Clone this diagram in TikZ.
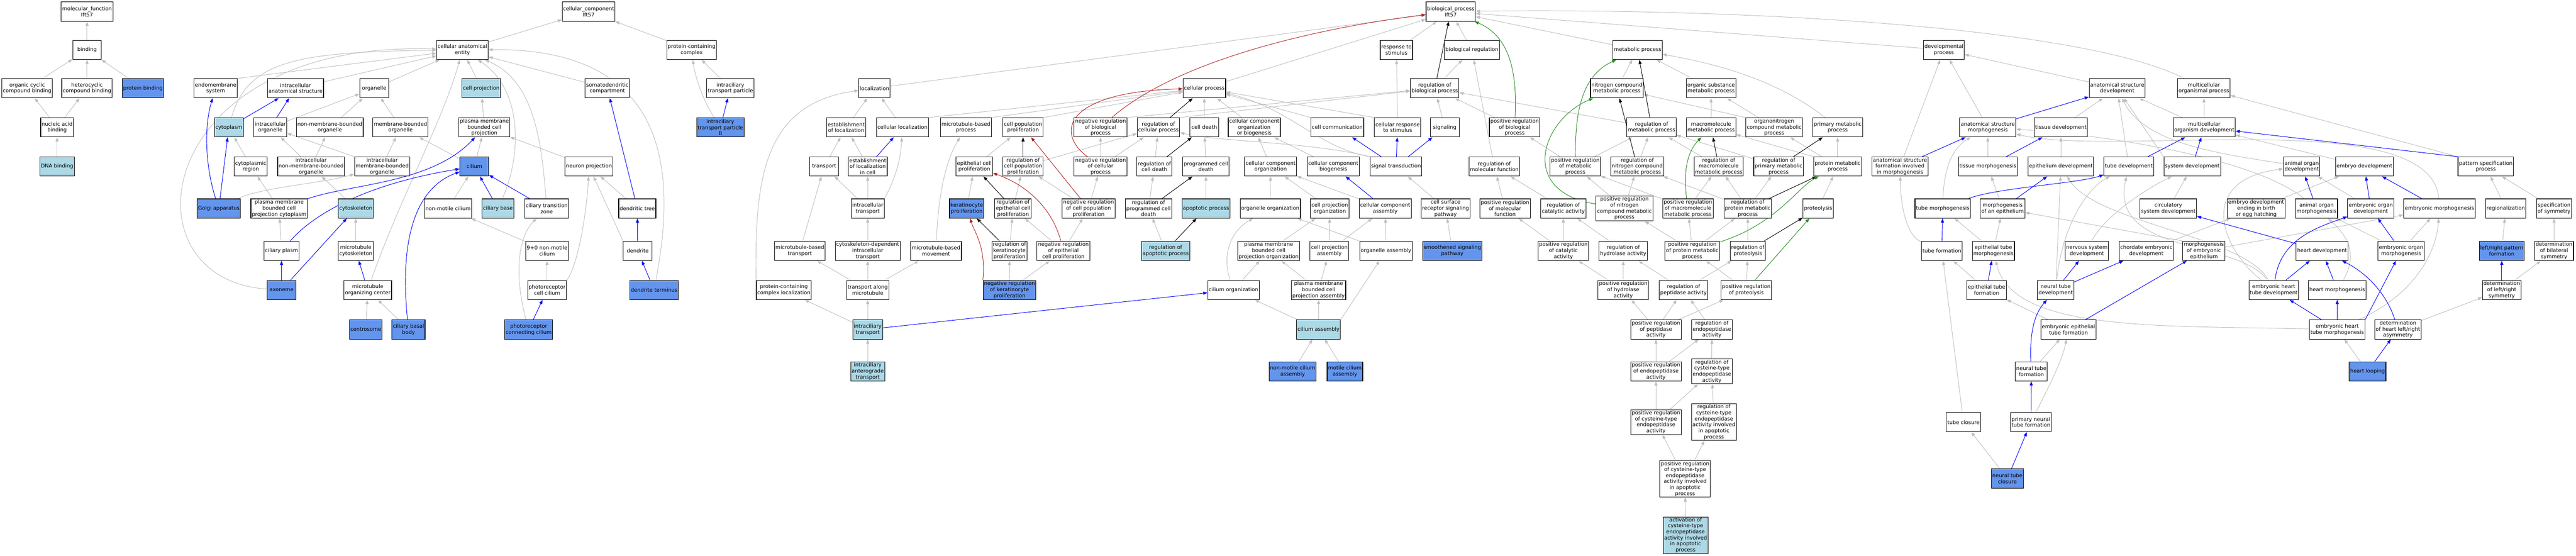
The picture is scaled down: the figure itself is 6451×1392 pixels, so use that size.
\documentclass[tikz,border=0pt]{standalone}
\usepackage{fontspec}
\setmainfont{DejaVu Sans}
\usetikzlibrary{arrows.meta}
\definecolor{hitlight}{HTML}{ADD8E6}
\definecolor{hitdark}{HTML}{6495ED}
\definecolor{isagray}{HTML}{BEBEBE}
\definecolor{negred}{HTML}{B22222}
\definecolor{posgreen}{HTML}{228B22}
\newcommand{\gofont}{\fontsize{3.7}{4.27}\selectfont}
\pgfdeclarelayer{edges}
\pgfsetlayers{edges,main}
\tikzset{
  goterm/.style={draw, rectangle, align=center, font=\gofont, fill=white, minimum width=0.72cm, minimum height=0.48cm, inner xsep=0.025cm, inner ysep=0.02cm, line width=0.4pt},
  lighthit/.style={goterm, fill=hitlight},
  darkhit/.style={goterm, fill=hitdark},
  link/.style={line width=0.35pt, -{Triangle[length=3pt,width=2.2pt]}},
  isa/.style={link, isagray},
  partof/.style={link, blue},
  regul/.style={link, black},
  negreg/.style={link, negred},
  posreg/.style={link, posgreen}
}

\begin{document}
\begin{tikzpicture}[x=0.01cm, y=-0.01cm]
\useasboundingbox (0,0) rectangle (6451,1392);

\node[goterm] (mf) at (218,29) {molecular\_function\\Ift57};
\node[goterm] (bind) at (218,125) {binding};
\node[goterm] (ocb) at (68,221) {organic cyclic\\compound binding};
\node[goterm] (hcb) at (218,221) {heterocyclic\\compound binding};
\node[darkhit] (pbind) at (358,221) {protein binding};
\node[goterm] (nab) at (143,319) {nucleic acid\\binding};
\node[lighthit] (dnab) at (143,417) {DNA binding};

\node[goterm] (cc) at (1474,29) {cellular\_component\\Ift57};
\node[goterm] (cae) at (1158,125) {cellular anatomical\\entity};
\node[goterm] (pcc) at (1732,125) {protein-containing\\complex};
\node[goterm] (ems) at (540,221) {endomembrane\\system};
\node[goterm] (ias) at (740,221) {intracellular\\anatomical structure};
\node[goterm] (org) at (937,221) {organelle};
\node[lighthit] (cproj) at (1205,221) {cell projection};
\node[goterm] (sdc) at (1521,221) {somatodendritic\\compartment};
\node[goterm] (itp) at (1829,221) {intraciliary\\transport particle};
\node[lighthit] (cyto) at (573,319) {cytoplasm};
\node[goterm] (io) at (677,319) {intracellular\\organelle};
\node[goterm] (nmbo) at (826,319) {non-membrane-bounded\\organelle};
\node[goterm] (mbo) at (1003,319) {membrane-bounded\\organelle};
\node[goterm] (pmbcp) at (1213,319) {plasma membrane\\bounded cell\\projection};
\node[darkhit] (itpb) at (1804,319) {intraciliary\\transport particle\\B};
\node[goterm] (cyreg) at (628,417) {cytoplasmic\\region};
\node[goterm] (inmbo) at (779,417) {intracellular\\non-membrane-bounded\\organelle};
\node[goterm] (imbo) at (957,417) {intracellular\\membrane-bounded\\organelle};
\node[darkhit] (cilium) at (1188,417) {cilium};
\node[goterm] (nproj) at (1475,417) {neuron projection};
\node[darkhit] (golgi) at (548,522) {Golgi apparatus};
\node[goterm] (pmbcpc) at (699,522) {plasma membrane\\bounded cell\\projection cytoplasm};
\node[lighthit] (cysk) at (891,522) {cytoskeleton};
\node[goterm] (nmc) at (1122,522) {non-motile cilium};
\node[lighthit] (cbase) at (1247,522) {ciliary base};
\node[goterm] (ctz) at (1369,522) {ciliary transition\\zone};
\node[goterm] (dtree) at (1596,522) {dendritic tree};
\node[goterm] (cplasm) at (705,628) {ciliary plasm};
\node[goterm] (mtcysk) at (891,628) {microtubule\\cytoskeleton};
\node[goterm] (nmc90) at (1370,628) {9+0 non-motile\\cilium};
\node[goterm] (dendrite) at (1597,628) {dendrite};
\node[darkhit] (axon) at (705,726) {axoneme};
\node[goterm] (mtoc) at (921,726) {microtubule\\organizing center};
\node[goterm] (prcil) at (1370,726) {photoreceptor\\cell cilium};
\node[darkhit] (dtermin) at (1638,726) {dendrite terminus};
\node[darkhit] (csome) at (916,825) {centrosome};
\node[darkhit] (cbb) at (1023,825) {ciliary basal\\body};
\node[darkhit] (pccil) at (1324,825) {photoreceptor\\connecting cilium};

\node[goterm] (bp) at (3633,29) {biological\_process\\Ift57};
\node[goterm] (rstim) at (3497,125) {response to\\stimulus};
\node[goterm] (breg) at (3686,125) {biological regulation};
\node[goterm] (metab) at (4101,125) {metabolic process};
\node[goterm] (devp) at (4868,125) {developmental\\process};
\node[goterm] (loc) at (2190,221) {localization};
\node[goterm] (cellp) at (3016,221) {cellular process};
\node[goterm] (rbp) at (3593,221) {regulation of\\biological process};
\node[goterm] (ncmp) at (4049,221) {nitrogen compound\\metabolic process};
\node[goterm] (osmp) at (4285,221) {organic substance\\metabolic process};
\node[goterm] (asd) at (5302,221) {anatomical structure\\development};
\node[goterm] (mop) at (5519,221) {multicellular\\organismal process};
\node[goterm] (eloc) at (2119,319) {establishment\\of localization};
\node[goterm] (cloc) at (2260,319) {cellular localization};
\node[goterm] (mbp) at (2419,319) {microtubule-based\\process};
\node[goterm] (cpp) at (2562,319) {cell population\\proliferation};
\node[goterm] (nrbp) at (2756,319) {negative regulation\\of biological\\process};
\node[goterm] (rcp) at (2901,319) {regulation of\\cellular process};
\node[goterm] (cdeath) at (3016,319) {cell death};
\node[goterm] (ccob) at (3141,319) {cellular component\\organization\\or biogenesis};
\node[goterm] (ccomm) at (3349,319) {cell communication};
\node[goterm] (crs) at (3500,319) {cellular response\\to stimulus};
\node[goterm] (signaling) at (3618,319) {signaling};
\node[goterm] (prbp) at (3793,319) {positive regulation\\of biological\\process};
\node[goterm] (rmp) at (4136,319) {regulation of\\metabolic process};
\node[goterm] (mmp) at (4285,319) {macromolecule\\metabolic process};
\node[goterm] (onmp) at (4443,319) {organonitrogen\\compound metabolic\\process};
\node[goterm] (pmp) at (4602,319) {primary metabolic\\process};
\node[goterm] (asm) at (4978,319) {anatomical structure\\morphogenesis};
\node[goterm] (tdev) at (5161,319) {tissue development};
\node[goterm] (mod) at (5520,319) {multicellular\\organism development};
\node[goterm] (transport) at (2064,417) {transport};
\node[goterm] (elocc) at (2173,417) {establishment\\of localization\\in cell};
\node[goterm] (ecp) at (2440,417) {epithelial cell\\proliferation};
\node[goterm] (rcpp) at (2562,417) {regulation of\\cell population\\proliferation};
\node[goterm] (nrcp) at (2756,417) {negative regulation\\of cellular\\process};
\node[goterm] (rcd) at (2891,417) {regulation of\\cell death};
\node[goterm] (pcd) at (3020,417) {programmed cell\\death};
\node[goterm] (cco) at (3182,417) {cellular component\\organization};
\node[goterm] (ccb) at (3339,417) {cellular component\\biogenesis};
\node[goterm] (sigtr) at (3496,417) {signal transduction};
\node[goterm] (rmf) at (3742,417) {regulation of\\molecular function};
\node[goterm] (prmp) at (3945,417) {positive regulation\\of metabolic\\process};
\node[goterm] (rncmp) at (4100,417) {regulation of\\nitrogen compound\\metabolic process};
\node[goterm] (rmmp) at (4304,417) {regulation of\\macromolecule\\metabolic process};
\node[goterm] (rpmp) at (4454,417) {regulation of\\primary metabolic\\process};
\node[goterm] (protmp) at (4602,417) {protein metabolic\\process};
\node[goterm] (asfim) at (4758,417) {anatomical structure\\formation involved\\in morphogenesis};
\node[goterm] (tmorph) at (4978,417) {tissue morphogenesis};
\node[goterm] (epdev) at (5161,417) {epithelium development};
\node[goterm] (tubedev) at (5331,417) {tube development};
\node[goterm] (sysdev) at (5490,417) {system development};
\node[goterm] (aod) at (5764,417) {animal organ\\development};
\node[goterm] (embdev) at (5921,417) {embryo development};
\node[goterm] (psp) at (6225,417) {pattern specification\\process};
\node[goterm] (itrans) at (2173,522) {intracellular\\transport};
\node[darkhit] (kprol) at (2421,522) {keratinocyte\\proliferation};
\node[goterm] (recp) at (2537,522) {regulation of\\epithelial cell\\proliferation};
\node[goterm] (nrcpp) at (2726,522) {negative regulation\\of cell population\\proliferation};
\node[goterm] (rpcd) at (2876,522) {regulation of\\programmed cell\\death};
\node[lighthit] (apop) at (3020,522) {apoptotic process};
\node[goterm] (orgorg) at (3181,522) {organelle organization};
\node[goterm] (cporg) at (3330,522) {cell projection\\organization};
\node[goterm] (ccass) at (3469,522) {cellular component\\assembly};
\node[goterm] (csrsp) at (3620,522) {cell surface\\receptor signaling\\pathway};
\node[goterm] (prmf) at (3769,522) {positive regulation\\of molecular\\function};
\node[goterm] (rca) at (3915,522) {regulation of\\catalytic activity};
\node[goterm] (prncmp) at (4068,522) {positive regulation\\of nitrogen\\compound metabolic\\process};
\node[goterm] (prmmp) at (4227,522) {positive regulation\\of macromolecule\\metabolic process};
\node[goterm] (rprotmp) at (4377,522) {regulation of\\protein metabolic\\process};
\node[goterm] (prot) at (4553,522) {proteolysis};
\node[goterm] (tmorphg) at (4865,522) {tube morphogenesis};
\node[goterm] (moae) at (5015,522) {morphogenesis\\of an epithelium};
\node[goterm] (csd) at (5430,522) {circulatory\\system development};
\node[goterm] (edeb) at (5650,522) {embryo development\\ending in birth\\or egg hatching};
\node[goterm] (aom) at (5801,522) {animal organ\\morphogenesis};
\node[goterm] (eod) at (5937,522) {embryonic organ\\development};
\node[goterm] (emorph) at (6109,522) {embryonic morphogenesis};
\node[goterm] (regio) at (6275,522) {regionalization};
\node[goterm] (specsym) at (6396,522) {specification\\of symmetry};
\node[goterm] (mbt) at (2003,628) {microtubule-based\\transport};
\node[goterm] (cdit) at (2173,628) {cytoskeleton-dependent\\intracellular\\transport};
\node[goterm] (mbm) at (2344,628) {microtubule-based\\movement};
\node[goterm] (rkp) at (2528,628) {regulation of\\keratinocyte\\proliferation};
\node[goterm] (nrecp) at (2663,628) {negative regulation\\of epithelial\\cell proliferation};
\node[lighthit] (rap) at (2919,628) {regulation of\\apoptotic process};
\node[goterm] (pmbcpo) at (3177,628) {plasma membrane\\bounded cell\\projection organization};
\node[goterm] (cpass) at (3329,628) {cell projection\\assembly};
\node[goterm] (orgass) at (3471,628) {organelle assembly};
\node[darkhit] (ssp) at (3637,628) {smoothened signaling\\pathway};
\node[goterm] (prca) at (3915,628) {positive regulation\\of catalytic\\activity};
\node[goterm] (rha) at (4065,628) {regulation of\\hydrolase activity};
\node[goterm] (prpmp) at (4238,628) {positive regulation\\of protein metabolic\\process};
\node[goterm] (rprot) at (4377,628) {regulation of\\proteolysis};
\node[goterm] (tform) at (4863,628) {tube formation};
\node[goterm] (etm) at (4992,628) {epithelial tube\\morphogenesis};
\node[goterm] (nsd) at (5226,628) {nervous system\\development};
\node[goterm] (ced) at (5375,628) {chordate embryonic\\development};
\node[goterm] (moee) at (5519,628) {morphogenesis\\of embryonic\\epithelium};
\node[goterm] (hdev) at (5815,628) {heart development};
\node[goterm] (eom) at (6013,628) {embryonic organ\\morphogenesis};
\node[darkhit] (lrpf) at (6265,628) {left/right pattern\\formation};
\node[goterm] (dbs) at (6396,628) {determination\\of bilateral\\symmetry};
\node[goterm] (pccl) at (1963,726) {protein-containing\\complex localization};
\node[goterm] (tam) at (2173,726) {transport along\\microtubule};
\node[darkhit] (nrkp) at (2528,726) {negative regulation\\of keratinocyte\\proliferation};
\node[goterm] (ciliorg) at (3089,726) {cilium organization};
\node[goterm] (pmbcpa) at (3302,726) {plasma membrane\\bounded cell\\projection assembly};
\node[goterm] (prha) at (4065,726) {positive regulation\\of hydrolase\\activity};
\node[goterm] (rpa) at (4216,726) {regulation of\\peptidase activity};
\node[goterm] (prp) at (4373,726) {positive regulation\\of proteolysis};
\node[goterm] (etf) at (4975,726) {epithelial tube\\formation};
\node[goterm] (ntd) at (5148,726) {neural tube\\development};
\node[goterm] (ehtd) at (5694,726) {embryonic heart\\tube development};
\node[goterm] (hmorph) at (5853,726) {heart morphogenesis};
\node[goterm] (dlrs) at (6265,726) {determination\\of left/right\\symmetry};
\node[lighthit] (ict) at (2173,825) {intraciliary\\transport};
\node[lighthit] (ciliass) at (3302,825) {cilium assembly};
\node[goterm] (prpa) at (4147,825) {positive regulation\\of peptidase\\activity};
\node[goterm] (rea) at (4287,825) {regulation of\\endopeptidase\\activity};
\node[goterm] (eetf) at (5180,825) {embryonic epithelial\\tube formation};
\node[goterm] (ehtm) at (5853,825) {embryonic heart\\tube morphogenesis};
\node[goterm] (dhlra) at (6005,825) {determination\\of heart left/right\\asymmetry};
\node[lighthit] (icat) at (2173,930) {intraciliary\\anterograde\\transport};
\node[darkhit] (nmca) at (3237,930) {non-motile cilium\\assembly};
\node[darkhit] (mca) at (3368,930) {motile cilium\\assembly};
\node[goterm] (prea) at (4147,930) {positive regulation\\of endopeptidase\\activity};
\node[goterm] (rcea) at (4287,930) {regulation of\\cysteine-type\\endopeptidase\\activity};
\node[goterm] (ntf) at (5087,930) {neural tube\\formation};
\node[darkhit] (hloop) at (5929,930) {heart looping};
\node[goterm] (prcea) at (4147,1057) {positive regulation\\of cysteine-type\\endopeptidase\\activity};
\node[goterm] (rceaap) at (4292,1057) {regulation of\\cysteine-type\\endopeptidase\\activity involved\\in apoptotic\\process};
\node[goterm] (tclos) at (4917,1057) {tube closure};
\node[goterm] (pntf) at (5086,1057) {primary neural\\tube formation};
\node[goterm] (prceaap) at (4220,1199) {positive regulation\\of cysteine-type\\endopeptidase\\activity involved\\in apoptotic\\process};
\node[darkhit] (ntc) at (5027,1198) {neural tube\\closure};
\node[lighthit] (acea) at (4221,1340) {activation of\\cysteine-type\\endopeptidase\\activity involved\\in apoptotic\\process};

\begin{pgfonlayer}{edges}
\foreach \a/\b in {bind/mf, ocb/bind, hcb/bind, pbind/bind, nab/ocb, nab/hcb, dnab/nab,
  cae/cc, pcc/cc, ias/cae, org/cae, cproj/cae, sdc/cae, itp/pcc,
  io/org, nmbo/org, mbo/org, pmbcp/cproj, cyreg/cyto, inmbo/io, inmbo/nmbo, imbo/mbo,
  cilium/pmbcp, cilium/mbo, nproj/pmbcp, pmbcpc/cyreg, cysk/inmbo, nmc/cilium, dtree/nproj,
  cplasm/pmbcpc, mtcysk/cysk, nmc90/nmc, prcil/nmc90, csome/mtoc, cbb/mtoc}
  \draw[isa] (\a) -- (\b);
\draw[isa] (ems.north east) -- (cae);
\draw[isa] (imbo.north west) -- (io);
\draw[isa] (dendrite.north west) -- (nproj);
\draw[isa] (cyto) .. controls (620,150) and (750,130) .. (cae);
\draw[isa] (axon) .. controls (300,700) and (380,100) .. (cae);
\draw[isa] (mtoc) .. controls (1000,500) and (1110,300) .. (cae);
\draw[isa] (cbase) .. controls (1310,380) and (1305,220) .. (cae);
\draw[isa] (ctz) .. controls (1355,330) and (1330,200) .. (cae);
\draw[isa] (dtermin) .. controls (1690,450) and (1690,120) .. (cae);
\draw[isa] (prcil.north east) .. controls (1450,660) and (1470,520) .. (nproj);
\draw[isa] (pccil) .. controls (1285,680) and (1300,590) .. (ctz);
\draw[isa] (golgi) .. controls (650,470) and (800,460) .. (imbo);
\draw[isa] (itpb) .. controls (1760,250) and (1740,190) .. (pcc);

\foreach \a/\b in {golgi/cyto, cyto/ias, io/ias, cbase/cilium, ctz/cilium, dtree/sdc, dendrite/dtree,
  dtermin/dendrite, itpb/itp, axon/cplasm, axon/cysk, mtoc/mtcysk, pccil/prcil}
  \draw[partof] (\a) -- (\b);
\draw[partof] (golgi) .. controls (515,420) and (510,320) .. (ems);
\draw[partof] (pmbcpc) .. controls (880,460) and (1080,460) .. (pmbcp);
\draw[partof] (cplasm) .. controls (800,520) and (950,455) .. (cilium);
\draw[partof] (cbb) .. controls (1000,600) and (1040,470) .. (cilium);

\foreach \a/\b in {rstim/bp, breg/bp, metab/bp, devp/bp, loc/bp, cellp/bp, rbp/breg, rmf/breg,
  eloc/loc, cloc/loc, transport/eloc, elocc/eloc, itrans/transport, itrans/elocc, cdit/itrans,
  mbt/transport, tam/mbt, tam/cdit, tam/mbm, ict/tam, ict/pccl, icat/ict,
  cdeath/cellp, ccob/cellp, crs/rstim, signaling/rbp, prbp/rbp, rmp/rbp,
  ecp/cpp, rcpp/rcp, nrcp/nrbp, nrcp/rcp, rcd/rcp, pcd/cdeath, kprol/ecp, recp/rcpp, nrcpp/rcpp,
  nrcpp/nrcp, rpcd/rcd, apop/pcd, rkp/recp, nrecp/recp, nrecp/nrcpp, rap/rpcd, nrkp/rkp, nrkp/nrecp,
  cco/ccob, ccb/ccob, orgorg/cco, cporg/cco, ccass/cco, csrsp/sigtr, ssp/csrsp, pmbcpo/cporg,
  cpass/cporg, cpass/ccass, orgass/ccass, orgass/orgorg, ciliorg/pmbcpo, pmbcpa/pmbcpo, pmbcpa/cpass,
  ciliass/ciliorg, ciliass/pmbcpa, nmca/ciliass, mca/ciliass,
  prmf/rmf, rca/rmf, prca/prmf, prca/rca, rha/rca, prha/rha, prha/prca, rpa/rha, rpa/rprot,
  prp/rprot, prp/prpmp, prpa/prha, prpa/rpa, prpa/prp, rea/rpa, prea/prpa, prea/rea, rcea/rea,
  prcea/prea, prcea/rcea, rceaap/rcea, prceaap/prcea, prceaap/rceaap, acea/prceaap,
  ncmp/metab, osmp/metab, prmp/prbp, prmp/rmp, rncmp/rmp, rmmp/rmp, rpmp/rmp, mmp/osmp, onmp/osmp,
  protmp/pmp, protmp/onmp, prncmp/prmp, prncmp/rncmp, prmmp/prmp, prmmp/rmmp, rprotmp/rpmp,
  rprotmp/rmmp, rprotmp/rncmp, prot/protmp, prpmp/prmmp, prpmp/rprotmp, prpmp/prncmp, rprot/rprotmp,
  asd/devp, asfim/devp, asm/devp, tdev/asd, mod/asd, mod/mop, tubedev/asd, embdev/mod, tmorph/asm,
  epdev/tdev, moae/tmorph, etm/tmorphg, etm/moae, etf/tform, tclos/tform, eetf/etf, ntf/eetf,
  ntc/tclos, ntd/epdev, csd/sysdev, ced/edeb, moee/emorph, edeb/embdev, eod/aod, eom/aom, eom/emorph,
  regio/psp, specsym/psp, lrpf/regio, dbs/specsym, dlrs/dbs, dhlra/dlrs, hloop/ehtm}
  \draw[isa] (\a) -- (\b);
\draw[isa] (onmp.north west) -- (ncmp);
\draw[isa] (cloc.north east) -- (cellp);
\draw[isa] (mbp.north east) -- (cellp);
\draw[isa] (cpp.north east) -- (cellp);
\draw[isa] (ccomm.north west) -- (cellp);
\draw[isa] (crs.north west) -- (cellp);
\draw[isa] (nrbp.north east) -- (rbp);
\draw[isa] (rcp.north east) -- (rbp);
\draw[isa] (sysdev.north west) -- (asd);
\draw[isa] (psp.north west) -- (mop);
\draw[isa] (moee.north west) -- (moae);
\draw[isa] (protmp.north west) -- (mmp);
\draw[isa] (ciliass.north east) -- (orgass);
\draw[isa] (mop) .. controls (5200,60) and (4300,20) .. (bp);
\draw[isa] (pccl.north west) .. controls (1890,450) and (1910,260) .. (loc);
\draw[isa] (itrans.north east) .. controls (2245,440) and (2255,400) .. (cloc);
\draw[isa] (mbm) .. controls (2350,480) and (2370,400) .. (mbp);
\draw[isa] (sigtr.north west) .. controls (3280,355) and (3050,355) .. (rcp);
\draw[isa] (sigtr.north west) .. controls (3300,370) and (3230,270) .. (cellp);
\draw[isa] (ciliorg) .. controls (3060,640) and (3080,580) .. (orgorg);
\draw[isa] (pmp) .. controls (4450,200) and (4300,160) .. (metab);
\draw[isa] (aod) .. controls (5560,385) and (5370,360) .. (asd);
\draw[isa] (tmorphg) .. controls (4868,420) and (4890,370) .. (asm);
\draw[isa] (aom) .. controls (5650,400) and (5300,340) .. (asm);
\draw[isa] (emorph) .. controls (6090,260) and (5300,395) .. (asm);
\draw[isa] (tform) .. controls (4775,590) and (4760,520) .. (asfim);
\draw[isa] (pntf) .. controls (5135,960) and (5165,900) .. (eetf);
\draw[isa] (ntd) .. controls (5165,560) and (5230,470) .. (tubedev);
\draw[isa] (ehtm) .. controls (5400,815) and (5040,830) .. (etm);
\draw[isa] (nsd) .. controls (5270,540) and (5380,470) .. (sysdev);
\draw[isa] (ehtm) .. controls (6040,740) and (6100,640) .. (emorph);
\draw[isa] (ehtd) .. controls (5610,600) and (5280,640) .. (tubedev);
\draw[isa] (ehtd) .. controls (5620,590) and (5250,560) .. (epdev);
\draw[isa] (ehtd) .. controls (5560,620) and (5500,450) .. (aod);
\draw[isa] (hmorph) .. controls (5905,640) and (5880,590) .. (aom);

\foreach \a/\b in {elocc/cloc, ccass/ccb, sigtr/ccomm, sigtr/crs, sigtr/signaling, ict/ciliorg,
  asm/asd, asfim/asm, tmorph/tdev, moae/epdev, tubedev/mod, sysdev/mod, aom/aod, eod/embdev,
  emorph/embdev, tform/tmorphg, etf/etm, ntd/nsd, ntd/ced, eetf/moee, pntf/ntf, ntc/pntf, hdev/csd,
  hmorph/hdev, eom/eod, ehtm/ehtd, ehtm/hmorph, hloop/dhlra, dlrs/lrpf, ehtd/hdev}
  \draw[partof] (\a) -- (\b);
\draw[partof] (psp.north west) -- (mod);
\draw[partof] (ehtm.north east) -- (eom);
\draw[partof] (tmorphg) .. controls (5000,470) and (5200,460) .. (tubedev);
\draw[partof] (ntf) .. controls (5082,820) and (5100,780) .. (ntd);
\draw[partof] (dhlra) .. controls (5975,730) and (5920,680) .. (hdev);
\draw[partof] (ehtd) .. controls (5710,600) and (5800,570) .. (eod);

\foreach \a/\b in {rbp/bp, rcpp/cpp, rcp/cellp, rcd/cdeath, recp/ecp, rpcd/pcd, rkp/kprol, rap/apop,
  rmp/metab, rncmp/ncmp, rmmp/mmp, rpmp/pmp, rprotmp/protmp, rprot/prot}
  \draw[regul] (\a) -- (\b);

\draw[negreg] (nrcpp) -- (cpp);
\draw[negreg] (nrbp) .. controls (2950,150) and (3300,70) .. (bp);
\draw[negreg] (nrcp) .. controls (2640,330) and (2670,230) .. (cellp);
\draw[negreg] (nrecp) .. controls (2640,540) and (2590,470) .. (ecp);
\draw[negreg] (nrkp.north west) .. controls (2470,620) and (2440,580) .. (kprol);

\draw[posreg] (prp) -- (prot);
\draw[posreg] (prbp) .. controls (3800,180) and (3780,90) .. (bp);
\draw[posreg] (prmp) .. controls (3945,280) and (3960,190) .. (metab);
\draw[posreg] (prncmp) .. controls (3800,480) and (3860,300) .. (ncmp);
\draw[posreg] (prmmp) .. controls (4215,430) and (4225,380) .. (mmp);
\draw[posreg] (prpmp) .. controls (4450,560) and (4500,470) .. (protmp);
\end{pgfonlayer}
\end{tikzpicture}
\end{document}
